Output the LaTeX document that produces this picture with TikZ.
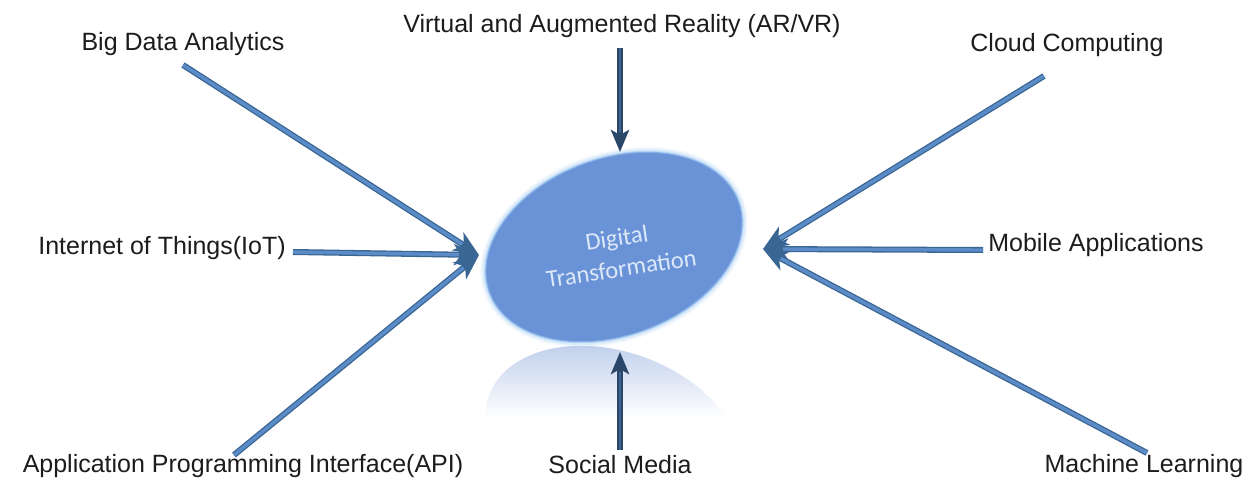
\documentclass[tikz,border=0pt]{standalone}
\usepackage{fontspec}
\setmainfont{Liberation Sans}
\newfontfamily\calibrifont{Carlito}
\usetikzlibrary{shapes.geometric,arrows.meta}
\definecolor{armedge}{HTML}{3A6694}
\definecolor{arfill}{HTML}{5B8CC7}
\definecolor{vedge}{HTML}{2A4668}
\definecolor{vfill}{HTML}{3D6390}
\definecolor{ellfill}{HTML}{6A93D7}
\definecolor{ellglow}{HTML}{9CC8F2}
\definecolor{txtcol}{HTML}{1C1C1C}
\definecolor{dtcol}{HTML}{DCE8F8}
\definecolor{reflcol}{HTML}{BFCFEB}
\begin{document}
\begin{tikzpicture}[x=1pt,y=-1pt,
  lbl/.style={font=\fontsize{25}{30}\selectfont, text=txtcol, inner sep=0pt},
  ellpath/.style={x radius=133, y radius=89, rotate=20},
  arrd/.style={draw=armedge, line width=6pt, -{Stealth[length=25pt,width=21pt,inset=7pt,fill=armedge]}},
  arrl/.style={draw=arfill, line width=3.4pt, shorten >=20pt},
  varrd/.style={draw=vedge, line width=5.5pt, -{Stealth[length=22pt,width=18pt,inset=5pt,fill=vedge]}},
  varrl/.style={draw=vfill, line width=2.4pt, shorten >=20pt}]
\useasboundingbox[fill=white] (0,0) rectangle (1252,479);

% reflection
\begin{scope}
  \clip (614,441) ellipse[x radius=133, y radius=89, rotate=-20];
  \shade[top color=reflcol, bottom color=white] (470,343) rectangle (760,418);
\end{scope}

% central ellipse with soft glow
\draw[ellglow, draw opacity=0.12, line width=10pt] (614,247) ellipse[ellpath];
\draw[ellglow, draw opacity=0.25, line width=6pt] (614,247) ellipse[ellpath];
\draw[fill=ellfill, draw=ellglow, draw opacity=0.6, line width=2pt] (614,247) ellipse[ellpath];
\node[rotate=8.5, align=center, text=dtcol, font=\calibrifont\fontsize{24.5}{31}\selectfont] (dt) at (619,253) {Digital\\Transformation};

% labels
\node[lbl] (bigdata) at (183,44) {Big Data Analytics};
\node[lbl] (arvr) at (622,26) {Virtual and Augmented Reality (AR/VR)};
\node[lbl] (cloud) at (1067,45) {Cloud Computing};
\node[lbl] (iot) at (162,248) {Internet of Things(IoT)};
\node[lbl] (mobile) at (1096,245) {Mobile Applications};
\node[lbl] (api) at (243,466) {Application Programming Interface(API)};
\node[lbl] (social) at (620,465) {Social Media};
\node[lbl] (ml) at (1144,466) {Machine Learning};

% arrow ends
\coordinate (sbig) at (183,65);
\coordinate (sarvr) at (620,48);
\coordinate (scloud) at (1044,76);
\coordinate (siot) at (293,252);
\coordinate (smob) at (983,250);
\coordinate (sapi) at (234,455);
\coordinate (ssoc) at (620,450);
\coordinate (sml) at (1147,453);
\coordinate (tl) at (479,255);
\coordinate (tr) at (763,249);
\coordinate (ttop) at (620,152);
\coordinate (tbot) at (620,352);

% diagonal / horizontal arrows
\foreach \s/\t in {sbig/tl, siot/tl, sapi/tl, scloud/tr, smob/tr, sml/tr}{
  \draw[arrd] (\s) -- (\t);
  \draw[arrl] (\s) -- (\t);
}
% vertical arrows
\foreach \s/\t in {sarvr/ttop, ssoc/tbot}{
  \draw[varrd] (\s) -- (\t);
  \draw[varrl] (\s) -- (\t);
}
\end{tikzpicture}
\end{document}
